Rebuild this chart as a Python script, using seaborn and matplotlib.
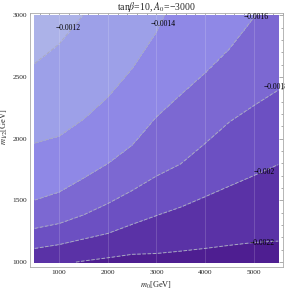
import numpy as np
import matplotlib
matplotlib.use("Agg")
import matplotlib.pyplot as plt
import seaborn as sns
from matplotlib.ticker import MultipleLocator

# contour levels and where each one sits (m12 position for every m0 column)
levels = [-0.0022, -0.0020, -0.0018, -0.0016, -0.0014, -0.0012]
m0_cols = [500, 1000, 1500, 2000, 2500, 3000, 3500, 4000, 4500, 5000, 5500]
m12_lv0022 = [950, 980, 1009, 1035, 1063, 1070, 1089, 1111, 1136, 1159, 1170]
m12_lv0020 = [1111, 1142, 1187, 1232, 1306, 1377, 1446, 1530, 1616, 1701, 1790]
m12_lv0018 = [1273, 1312, 1382, 1474, 1580, 1697, 1796, 1962, 2136, 2268, 2393]
m12_lv0016 = [1502, 1567, 1680, 1798, 1947, 2177, 2357, 2532, 2728, 2980, 3250]
m12_lv0014 = [1964, 2020, 2157, 2336, 2567, 2864, 3280, 3700, 4100, 4500, 4900]
m12_lv0012 = [2609, 2767, 3004, 3240, 3480, 3720, 3960, 4200, 4440, 4680, 4920]

band_colors = ["#4e1e91", "#5a32a6", "#6c50c2", "#7c68d2", "#8f88e6", "#9da0e8", "#acb2e8"]
label_text = ["\u22120.0022", "\u22120.002", "\u22120.0018", "\u22120.0016", "\u22120.0014", "\u22120.0012"]
label_pos = [(5182, 1154), (5223, 1729), (5463, 2417), (5058, 2984), (3128, 2927), (1178, 2895)]

sns.set_style("white")
plt.rcParams["font.family"] = ["Liberation Serif", "DejaVu Serif"]
plt.rcParams["mathtext.fontset"] = "stix"

# build the field from the traced contour positions
positions = np.array([m12_lv0022, m12_lv0020, m12_lv0018, m12_lv0016, m12_lv0014, m12_lv0012], dtype=float)
lv = np.array(levels)
m0_grid = np.linspace(500, 5500, 251)
m12_grid = np.linspace(1000, 3000, 301)
Z = np.zeros((len(m12_grid), len(m0_grid)))
for j, x in enumerate(m0_grid):
    p = np.array([np.interp(x, m0_cols, row) for row in positions])
    lo_slope = (lv[1] - lv[0]) / (p[1] - p[0])
    hi_slope = (lv[-1] - lv[-2]) / (p[-1] - p[-2])
    xp = np.concatenate([[p[0] - 2000], p, [p[-1] + 2000]])
    fp = np.concatenate([[lv[0] - 2000 * lo_slope], lv, [lv[-1] + 2000 * hi_slope]])
    Z[:, j] = np.interp(m12_grid, xp, fp)

fig = plt.figure(figsize=(2.85, 2.9), dpi=100)
ax = fig.add_axes([0.105, 0.08, 0.888, 0.876])

bounds = [-1.0] + levels + [1.0]
ax.contourf(m0_grid, m12_grid, Z, levels=bounds, colors=band_colors)
ax.contour(m0_grid, m12_grid, Z, levels=levels, colors="#a9a9c0", linewidths=0.7)

# faint vertical grid lines
for gx in [1000, 2000, 3000, 4000, 5000]:
    ax.axvline(gx, color="white", lw=0.6, alpha=0.18)

for txt, (lx, ly) in zip(label_text, label_pos):
    ax.text(lx, ly, txt, fontsize=5.5, ha="center", va="center", color="black")

ax.set_xlim(400, 5600)
ax.set_ylim(962, 3020)
ax.xaxis.set_major_locator(MultipleLocator(1000))
ax.xaxis.set_minor_locator(MultipleLocator(200))
ax.yaxis.set_major_locator(MultipleLocator(500))
ax.yaxis.set_minor_locator(MultipleLocator(100))
ax.tick_params(which="both", direction="in", top=True, right=True, color="#888888",
               labelsize=5.3, pad=2)
ax.tick_params(which="major", length=3, width=0.5)
ax.tick_params(which="minor", length=1.5, width=0.5)
for s in ax.spines.values():
    s.set_color("#aaaaaa")
    s.set_linewidth(0.6)

ax.set_xlabel(r"$m_0$[GeV]", fontsize=6)
ax.set_ylabel(r"$m_{1/2}$[GeV]", fontsize=6)
ax.xaxis.set_label_coords(0.5, -0.05)
ax.yaxis.set_label_coords(-0.078, 0.55)
ax.set_title(r"tan$\beta$=10, $A_0$=" + "\u22123000", fontsize=7, pad=2)

fig.savefig("out.png", dpi=100)
